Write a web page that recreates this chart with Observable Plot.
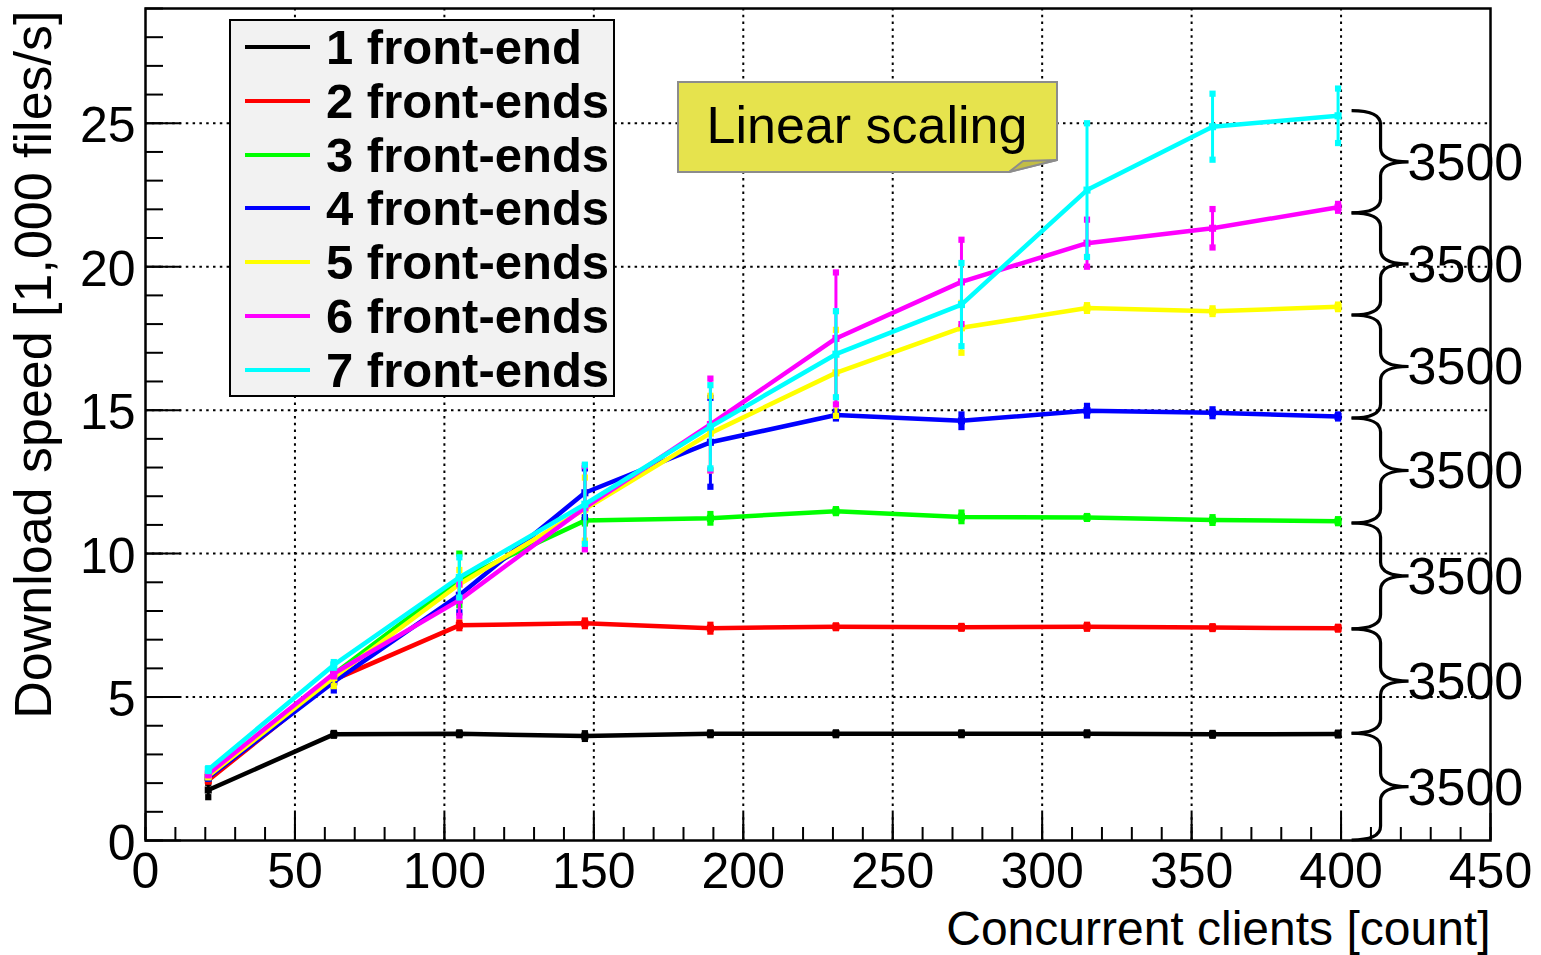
<!DOCTYPE html>
<html>
<head>
<meta charset="utf-8">
<script src="https://cdn.jsdelivr.net/npm/d3@7"></script>
<script src="https://cdn.jsdelivr.net/npm/@observablehq/plot@0.6"></script>
<style>
html, body { margin: 0; padding: 0; background: #fff; }
#wrap { position: relative; width: 1541px; height: 955px; font-family: "Liberation Sans", Arial, Helvetica, sans-serif; }
#legend { position: absolute; left: 229px; top: 19px; width: 386px; height: 378px; box-sizing: border-box; background: #f2f2f2; border: 2px solid #000; }
#legend .row { position: absolute; left: 0; height: 54px; width: 100%; }
#legend .sw { position: absolute; left: 14px; top: 25px; width: 65px; height: 4px; }
#legend .lb { position: absolute; left: 95px; top: 0; line-height: 54px; font-weight: bold; font-size: 49px; color: #000; white-space: nowrap; }
#note { position: absolute; left: 677px; top: 81px; }
</style>
</head>
<body>
<div id="wrap"></div>
<script>
// ---- data ----
const clients = [21, 63, 105, 147, 189, 231, 273, 315, 357, 399];
const seriesNames = ["1 front-end", "2 front-ends", "3 front-ends", "4 front-ends", "5 front-ends", "6 front-ends", "7 front-ends"];
const seriesColors = ["#000000", "#ff0000", "#00ff00", "#0000ff", "#ffff00", "#ff00ff", "#00ffff"];
const speed1 = [1.76, 3.70, 3.72, 3.64, 3.72, 3.72, 3.72, 3.72, 3.70, 3.71];
const err1   = [0.25, 0.05, 0.05, 0.10, 0.05, 0.05, 0.05, 0.05, 0.05, 0.05];
const speed2 = [2.10, 5.60, 7.50, 7.57, 7.40, 7.45, 7.43, 7.45, 7.42, 7.40];
const err2   = [0.05, 0.10, 0.10, 0.10, 0.12, 0.05, 0.05, 0.07, 0.05, 0.05];
const speed3 = [2.20, 5.80, 9.10, 11.15, 11.23, 11.48, 11.28, 11.26, 11.17, 11.13];
const err3   = [0.05, 0.15, 0.90, 0.10, 0.15, 0.07, 0.15, 0.05, 0.10, 0.07];
const speed4 = [2.20, 5.53, 8.55, 12.12, 13.88, 14.83, 14.63, 14.98, 14.91, 14.78];
const err4   = [0.05, 0.30, 0.60, 0.85, 1.55, 0.12, 0.22, 0.17, 0.12, 0.07];
const speed5 = [2.25, 5.68, 8.93, 11.55, 14.20, 16.30, 17.87, 18.56, 18.45, 18.60];
const err5   = [0.05, 0.30, 0.50, 1.10, 1.30, 1.50, 0.87, 0.10, 0.10, 0.08];
const speed6 = [2.32, 5.82, 8.38, 11.60, 14.50, 17.50, 19.47, 20.82, 21.34, 22.07];
const err6   = [0.05, 0.10, 0.55, 1.45, 1.60, 2.30, 1.47, 0.82, 0.67, 0.12];
const speed7 = [2.47, 6.12, 9.17, 11.72, 14.42, 16.95, 18.68, 22.67, 24.88, 25.26];
const err7   = [0.05, 0.10, 0.70, 1.38, 1.45, 1.50, 1.45, 2.33, 1.15, 0.95];
const braceLevels = [0, 3.72, 7.36, 11.05, 14.71, 18.30, 21.86, 25.42];
const braceLabels = ["3500", "3500", "3500", "3500", "3500", "3500", "3500"];
const xTicks = [0, 50, 100, 150, 200, 250, 300, 350, 400, 450];
const xGridTicks = [50, 100, 150, 200, 250, 300, 350, 400];
const xMinorTicks = [0,10,20,30,40,50,60,70,80,90,100,110,120,130,140,150,160,170,180,190,200,210,220,230,240,250,260,270,280,290,300,310,320,330,340,350,360,370,380,390,400,410,420,430,440,450];
const yTicks = [0, 5, 10, 15, 20, 25];
const yGridTicks = [5, 10, 15, 20, 25];
const yMinorTicks = [0,1,2,3,4,5,6,7,8,9,10,11,12,13,14,15,16,17,18,19,20,21,22,23,24,25,26,27,28,29];
const xTitle = "Concurrent clients [count]";
const yTitle = "Download speed [1,000 files/s]";
const noteText = "Linear scaling";

const speeds = [speed1, speed2, speed3, speed4, speed5, speed6, speed7];
const errs = [err1, err2, err3, err4, err5, err6, err7];
const rowsBySeries = speeds.map((s, i) => clients.map((c, j) => ({series: seriesNames[i], x: c, y: s[j], e: errs[i][j]})));

const FONT = '"Liberation Sans", Arial, Helvetica, sans-serif';
const gridStyle = {stroke: "#000", strokeOpacity: 1, strokeWidth: 2, strokeDasharray: "2.5,4.3"};

function braceMark(index, scales) {
  const ns = "http://www.w3.org/2000/svg";
  const g = document.createElementNS(ns, "g");
  const xb = scales.x(clients[clients.length - 1]) + 14;
  const x1 = xb + 29, xt = xb + 57;
  for (let k = 0; k < braceLevels.length - 1; k++) {
    const yb = scales.y(braceLevels[k]);
    const yt = scales.y(braceLevels[k + 1]);
    const ym = (yb + yt) / 2;
    const r = Math.min(14, (yb - yt) / 4);
    const p = document.createElementNS(ns, "path");
    p.setAttribute("d",
      `M${xb},${yt} Q${x1},${yt} ${x1},${yt + r} L${x1},${ym - r} Q${x1},${ym} ${xt},${ym} ` +
      `Q${x1},${ym} ${x1},${ym + r} L${x1},${yb - r} Q${x1},${yb} ${xb},${yb}`);
    p.setAttribute("fill", "none");
    p.setAttribute("stroke", "#000");
    p.setAttribute("stroke-width", "3.2");
    g.appendChild(p);
    const t = document.createElementNS(ns, "text");
    t.setAttribute("x", xt - 1);
    t.setAttribute("y", ym + 18);
    t.setAttribute("font-size", "52");
    t.setAttribute("text-anchor", "start");
    t.setAttribute("fill", "#000");
    t.textContent = braceLabels[k];
    g.appendChild(t);
  }
  return g;
}

const seriesMarks = rowsBySeries.flatMap((rows, i) => [
  Plot.line(rows, {x: "x", y: "y", stroke: seriesColors[i], strokeWidth: 4.5}),
  Plot.ruleX(rows, {x: "x", y1: d => d.y - d.e, y2: d => d.y + d.e, stroke: seriesColors[i], strokeWidth: 3}),
  Plot.dot(rows, {x: "x", y: d => d.y - d.e, symbol: "square", r: 3.5, fill: seriesColors[i], stroke: null}),
  Plot.dot(rows, {x: "x", y: d => d.y + d.e, symbol: "square", r: 3.5, fill: seriesColors[i], stroke: null}),
  Plot.dot(rows, {x: "x", y: "y", symbol: "square", r: 4, fill: seriesColors[i], stroke: null})
]);

const chart = Plot.plot({
  width: 1541,
  height: 955,
  marginLeft: 145,
  marginRight: 51,
  marginTop: 8,
  marginBottom: 115,
  x: {domain: [0, 450], label: null},
  y: {domain: [0, 29], label: null},
  style: {fontFamily: FONT, fontSize: "50px", background: "#fff", color: "#000", overflow: "visible"},
  marks: [
    Plot.gridX(xGridTicks, gridStyle),
    Plot.gridY(yGridTicks, gridStyle),
    Plot.axisX(xMinorTicks, {tickSize: -13, tickFormat: () => "", strokeWidth: 2, label: null}),
    Plot.axisX(xTicks, {tickSize: -27, tickFormat: () => "", strokeWidth: 2, label: null}),
    Plot.axisX(xTicks, {tickSize: 0, tickPadding: 12, fontSize: 50, tickFormat: d => String(d), label: null}),
    Plot.axisY(yMinorTicks, {tickSize: -18, tickFormat: () => "", strokeWidth: 2, label: null}),
    Plot.axisY(yTicks, {tickSize: -36, tickFormat: () => "", strokeWidth: 2, label: null}),
    Plot.axisY(yTicks, {tickSize: 0, tickPadding: 10, dy: 3, fontSize: 50, tickFormat: d => String(d), label: null}),
    ...seriesMarks,
    braceMark,
    Plot.frame({stroke: "#000", strokeWidth: 2.5}),
    Plot.text([xTitle], {text: d => d, frameAnchor: "bottom-right", textAnchor: "end", lineAnchor: "bottom", dy: 104, fontSize: 48}),
    Plot.text([yTitle], {text: d => d, frameAnchor: "top-left", rotate: -90, textAnchor: "end", lineAnchor: "bottom", dx: -95, dy: 2, fontSize: 52})
  ]
});

const wrap = document.getElementById("wrap");
wrap.appendChild(chart);

// legend
const legend = document.createElement("div");
legend.id = "legend";
seriesNames.forEach((name, i) => {
  const row = document.createElement("div");
  row.className = "row";
  row.style.top = (i * 53.8 - 1) + "px";
  const sw = document.createElement("div");
  sw.className = "sw";
  sw.style.background = seriesColors[i];
  const lb = document.createElement("div");
  lb.className = "lb";
  lb.textContent = name;
  row.appendChild(sw);
  row.appendChild(lb);
  legend.appendChild(row);
});
wrap.appendChild(legend);

// note box
const note = document.createElement("div");
note.id = "note";
note.innerHTML = `<svg width="384" height="96" xmlns="http://www.w3.org/2000/svg">
  <polygon points="1,1 380,1 380,79 332,91 1,91" fill="#e6e34d" stroke="#8c8c8c" stroke-width="2"/>
  <polygon points="332,91 346,80 380,79" fill="#c2bd45" stroke="#8c8c8c" stroke-width="2" stroke-linejoin="round"/>
  <text x="190" y="62" text-anchor="middle" font-size="52" font-family='${FONT}' fill="#000">${noteText}</text>
</svg>`;
wrap.appendChild(note);
</script>
</body>
</html>
